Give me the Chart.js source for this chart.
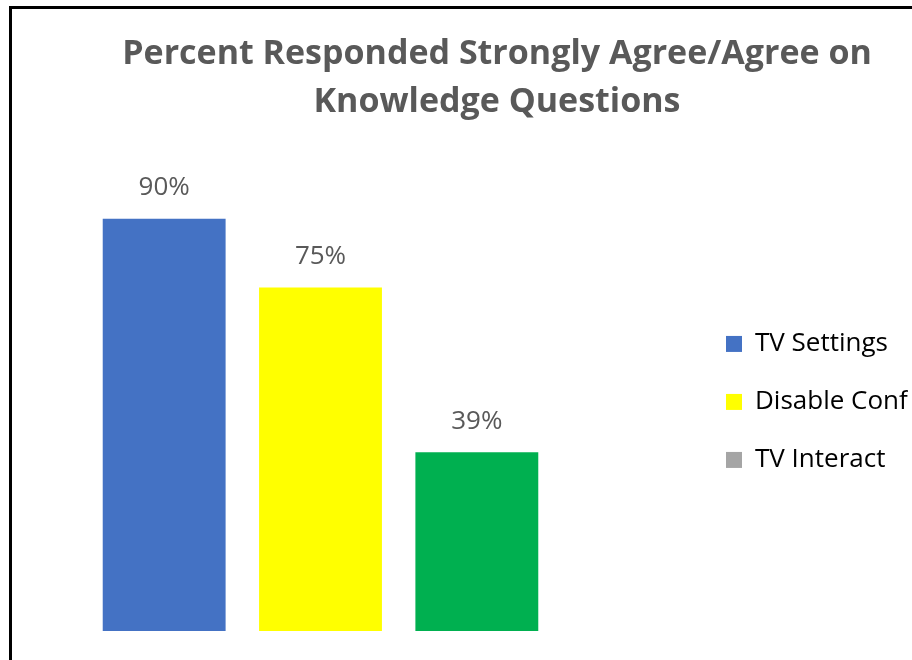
<!DOCTYPE html>
<html>
<head>
<meta charset="utf-8">
<script src="https://cdn.jsdelivr.net/npm/chart.js@4"></script>
<style>
   body { margin: 0; background: #fff; overflow: hidden; }
   .frame {
      position: absolute; left: 9px; top: 6px;
      border-left: 3px solid #000; border-top: 3px solid #000;
      width: 900px; height: 651px;
   }
   canvas { display: block; }
</style>
</head>
<body>
<div class="frame"><canvas id="myChart" width="900" height="651"></canvas></div>
<script>
// ============  data  ============
const categories = ['TV Settings', 'Disable Conf', 'TV Interact'];
const values = [90, 75, 39];
const barColors = ['#4472C4', '#FFFF00', '#00B050'];
const legendColors = ['#4472C4', '#FFFF00', '#A5A5A5'];
const titleLines = ['Percent Responded Strongly Agree/Agree on', 'Knowledge Questions'];

Chart.defaults.font.family = "'Open Sans'";
Chart.defaults.color = '#595959';

// value labels above bars
const valueLabels = {
   id: 'valueLabels',
   afterDatasetsDraw(chart) {
      const ctx = chart.ctx;
      const meta = chart.getDatasetMeta(0);
      ctx.save();
      ctx.font = "26px 'Open Sans'";
      ctx.fillStyle = '#595959';
      ctx.textAlign = 'center';
      ctx.textBaseline = 'middle';
      meta.data.forEach((bar, i) => {
         ctx.fillText(values[i] + '%', bar.x, bar.y - 31);
      });
      ctx.restore();
   }
};

let ctx = document.getElementById('myChart').getContext('2d');
let myChart = new Chart(ctx, {
   type: 'bar',
   data: {
      labels: categories,
      datasets: [{
         data: values,
         backgroundColor: barColors,
         borderWidth: 0,
         barPercentage: 0.786,
         categoryPercentage: 1,
      }],
   },
   options: {
      responsive: false,
      animation: false,
      layout: {
         padding: { left: 74, bottom: 29, right: 4 },
      },
      scales: {
         x: { display: false },
         y: { display: false, min: 0, max: 100 },
         y2: {
            position: 'right',
            display: true,
            grid: { display: false },
            border: { display: false },
            ticks: { display: false },
            afterFit: function(scale) {
               scale.width = 139;
            },
         },
      },
      plugins: {
         title: {
            display: true,
            text: titleLines,
            color: '#595959',
            font: { size: 34, weight: 'bold', lineHeight: 1.41 },
            padding: { top: 21, bottom: 47 },
         },
         legend: {
            display: true,
            position: 'right',
            align: 'center',
            fullSize: false,
            maxWidth: 214,
            labels: {
               boxWidth: 16,
               boxHeight: 16,
               padding: 32,
               font: { size: 26 },
               color: '#595959',
               generateLabels: function() {
                  return categories.map((c, i) => ({
                     text: c,
                     fillStyle: legendColors[i],
                     strokeStyle: legendColors[i],
                     lineWidth: 0,
                     index: i,
                  }));
               },
            },
         },
         tooltip: { enabled: false },
      },
   },
   plugins: [valueLabels],
});
</script>
</body>
</html>
